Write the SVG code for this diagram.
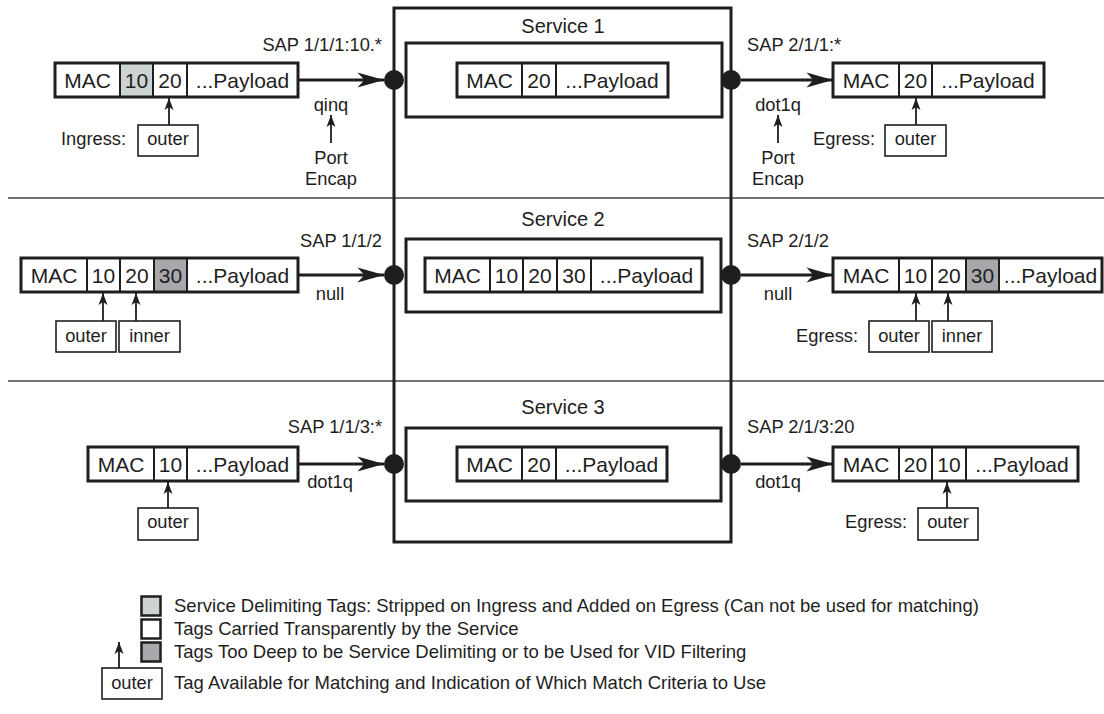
<svg xmlns="http://www.w3.org/2000/svg" width="1104" height="714" viewBox="0 0 1104 714">
<style>
text{font-family:"Liberation Sans",Arial,sans-serif;fill:#1e1e1e}
.p{font-size:21px;text-anchor:middle}
.s{font-size:20px;text-anchor:middle}
.l{font-size:18.3px}
.m{text-anchor:middle}
.e{text-anchor:end}
.g{font-size:18.5px}
.cell{fill:#fff;stroke:#1e1e1e;stroke-width:2}
.lt{fill:#cdd2d2}
.dk{fill:#a8a8ac}
.frame{fill:none;stroke:#1e1e1e;stroke-width:3}
.tag{fill:#fff;stroke:#1e1e1e;stroke-width:1.6}
.div{stroke:#444;stroke-width:1.6}
.arr{stroke:#1e1e1e;stroke-width:3;fill:none;marker-end:url(#big)}
.sm{stroke:#1e1e1e;stroke-width:1.8;fill:none;marker-end:url(#small)}
.dot{fill:#1e1e1e}
.leg{stroke:#1e1e1e;stroke-width:2.5}
</style>
<defs>
<marker id="big" markerUnits="userSpaceOnUse" markerWidth="30" markerHeight="20" viewBox="-24 -8 26 16" refX="0" refY="0" orient="auto">
<path d="M0,0 L-23,-6.5 L-17,0 L-23,6.5 Z" fill="#1e1e1e"/>
</marker>
<marker id="small" markerUnits="userSpaceOnUse" markerWidth="16" markerHeight="12" viewBox="-13 -6 14 12" refX="0" refY="0" orient="auto">
<path d="M0,0 L-12,-4.5 L-9,0 L-12,4.5 Z" fill="#1e1e1e"/>
</marker>
</defs>

<g id="dividers">
<line class="div" x1="8" y1="198" x2="1104" y2="198"/>
<line class="div" x1="8" y1="381" x2="1104" y2="381"/>
</g>

<g id="service-frame">
<rect class="frame" x="394" y="8" width="337" height="534"/>
</g>

<g id="service1">
<text class="s" x="563" y="33">Service 1</text>
<rect class="frame" x="406" y="43" width="316" height="74"/>
<rect class="cell" x="457" y="63" width="65" height="34"/>
<rect class="cell" x="522" y="63" width="34" height="34"/>
<rect class="cell" x="556" y="63" width="112" height="34"/>
<rect class="frame" x="457" y="63" width="211" height="34"/>
<text class="p" x="489.5" y="87.5">MAC</text>
<text class="p" x="539" y="87.5">20</text>
<text class="p" x="612" y="87.5">...Payload</text>
</g>

<g id="service2">
<text class="s" x="563" y="226">Service 2</text>
<rect class="frame" x="406" y="239" width="315" height="73"/>
<rect class="cell" x="425" y="258" width="65" height="34"/>
<rect class="cell" x="490" y="258" width="33" height="34"/>
<rect class="cell" x="523" y="258" width="34" height="34"/>
<rect class="cell" x="557" y="258" width="34" height="34"/>
<rect class="cell" x="591" y="258" width="111" height="34"/>
<rect class="frame" x="425" y="258" width="277" height="34"/>
<text class="p" x="457.5" y="282.5">MAC</text>
<text class="p" x="506.5" y="282.5">10</text>
<text class="p" x="540" y="282.5">20</text>
<text class="p" x="574" y="282.5">30</text>
<text class="p" x="646.5" y="282.5">...Payload</text>
</g>

<g id="service3">
<text class="s" x="563" y="414">Service 3</text>
<rect class="frame" x="406" y="428" width="315" height="73"/>
<rect class="cell" x="457" y="447" width="65" height="34"/>
<rect class="cell" x="522" y="447" width="34" height="34"/>
<rect class="cell" x="556" y="447" width="111" height="34"/>
<rect class="frame" x="457" y="447" width="210" height="34"/>
<text class="p" x="489.5" y="471.5">MAC</text>
<text class="p" x="539" y="471.5">20</text>
<text class="p" x="611.5" y="471.5">...Payload</text>
</g>

<g id="ingress1">
<rect class="cell" x="55" y="63" width="65" height="34"/>
<rect class="cell lt" x="120" y="63" width="33" height="34"/>
<rect class="cell" x="153" y="63" width="34" height="34"/>
<rect class="cell" x="187" y="63" width="111" height="34"/>
<rect class="frame" x="55" y="63" width="243" height="34"/>
<text class="p" x="87.5" y="87.5">MAC</text>
<text class="p" x="136.5" y="87.5">10</text>
<text class="p" x="170" y="87.5">20</text>
<text class="p" x="242.5" y="87.5">...Payload</text>
</g>

<g id="egress1">
<rect class="cell" x="833" y="63" width="66" height="34"/>
<rect class="cell" x="899" y="63" width="33" height="34"/>
<rect class="cell" x="932" y="63" width="112" height="34"/>
<rect class="frame" x="833" y="63" width="211" height="34"/>
<text class="p" x="866" y="87.5">MAC</text>
<text class="p" x="915.5" y="87.5">20</text>
<text class="p" x="988" y="87.5">...Payload</text>
</g>

<g id="ingress2">
<rect class="cell" x="21" y="258" width="66" height="34"/>
<rect class="cell" x="87" y="258" width="33" height="34"/>
<rect class="cell" x="120" y="258" width="34" height="34"/>
<rect class="cell dk" x="154" y="258" width="33" height="34"/>
<rect class="cell" x="187" y="258" width="111" height="34"/>
<rect class="frame" x="21" y="258" width="277" height="34"/>
<text class="p" x="54" y="282.5">MAC</text>
<text class="p" x="103.5" y="282.5">10</text>
<text class="p" x="137" y="282.5">20</text>
<text class="p" x="170.5" y="282.5">30</text>
<text class="p" x="242.5" y="282.5">...Payload</text>
</g>

<g id="egress2">
<rect class="cell" x="833" y="258" width="66" height="34"/>
<rect class="cell" x="899" y="258" width="33" height="34"/>
<rect class="cell" x="932" y="258" width="34" height="34"/>
<rect class="cell dk" x="966" y="258" width="33" height="34"/>
<rect class="cell" x="999" y="258" width="103" height="34"/>
<rect class="frame" x="833" y="258" width="269" height="34"/>
<text class="p" x="866" y="282.5">MAC</text>
<text class="p" x="915.5" y="282.5">10</text>
<text class="p" x="949" y="282.5">20</text>
<text class="p" x="982.5" y="282.5">30</text>
<text class="p" x="1050.5" y="282.5">...Payload</text>
</g>

<g id="ingress3">
<rect class="cell" x="88" y="447" width="66" height="34"/>
<rect class="cell" x="154" y="447" width="33" height="34"/>
<rect class="cell" x="187" y="447" width="111" height="34"/>
<rect class="frame" x="88" y="447" width="210" height="34"/>
<text class="p" x="121" y="471.5">MAC</text>
<text class="p" x="170.5" y="471.5">10</text>
<text class="p" x="242.5" y="471.5">...Payload</text>
</g>

<g id="egress3">
<rect class="cell" x="833" y="447" width="66" height="34"/>
<rect class="cell" x="899" y="447" width="33" height="34"/>
<rect class="cell" x="932" y="447" width="34" height="34"/>
<rect class="cell" x="966" y="447" width="112" height="34"/>
<rect class="frame" x="833" y="447" width="245" height="34"/>
<text class="p" x="866" y="471.5">MAC</text>
<text class="p" x="915.5" y="471.5">20</text>
<text class="p" x="949" y="471.5">10</text>
<text class="p" x="1022" y="471.5">...Payload</text>
</g>

<g id="tags">
<text class="l e" x="126" y="145">Ingress:</text>
<rect class="tag" x="138" y="125" width="60" height="31"/>
<text class="l m" x="168" y="145">outer</text>
<text class="l e" x="875" y="145">Egress:</text>
<rect class="tag" x="885" y="125" width="61" height="31"/>
<text class="l m" x="915.5" y="145">outer</text>

<rect class="tag" x="56" y="321" width="60" height="31"/>
<text class="l m" x="86" y="342">outer</text>
<rect class="tag" x="119" y="321" width="61" height="31"/>
<text class="l m" x="149.5" y="342">inner</text>
<text class="l e" x="858" y="342">Egress:</text>
<rect class="tag" x="869" y="321" width="60" height="31"/>
<text class="l m" x="899" y="342">outer</text>
<rect class="tag" x="932" y="321" width="60" height="31"/>
<text class="l m" x="962" y="342">inner</text>

<rect class="tag" x="138" y="508" width="60" height="32"/>
<text class="l m" x="168" y="528">outer</text>
<text class="l e" x="907" y="528">Egress:</text>
<rect class="tag" x="918" y="508" width="60" height="32"/>
<text class="l m" x="948" y="528">outer</text>
</g>

<g id="labels">
<text class="l e" x="382" y="51">SAP 1/1/1:10.*</text>
<text class="l m" x="331" y="111">qinq</text>
<text class="l m" x="331" y="164">Port</text>
<text class="l m" x="331" y="185">Encap</text>
<text class="l" x="747" y="51">SAP 2/1/1:*</text>
<text class="l m" x="778" y="111">dot1q</text>
<text class="l m" x="778" y="164">Port</text>
<text class="l m" x="778" y="185">Encap</text>
<text class="l e" x="382" y="247">SAP 1/1/2</text>
<text class="l m" x="330" y="300">null</text>
<text class="l" x="747" y="247">SAP 2/1/2</text>
<text class="l m" x="778" y="300">null</text>
<text class="l e" x="382" y="433">SAP 1/1/3:*</text>
<text class="l m" x="330" y="488">dot1q</text>
<text class="l" x="747" y="433">SAP 2/1/3:20</text>
<text class="l m" x="778" y="488">dot1q</text>
</g>

<g id="connectors">
<line class="arr" x1="298" y1="80" x2="384" y2="80"/>
<line class="arr" x1="741" y1="80" x2="833" y2="80"/>
<line class="arr" x1="298" y1="275" x2="384" y2="275"/>
<line class="arr" x1="741" y1="275" x2="833" y2="275"/>
<line class="arr" x1="298" y1="464" x2="384" y2="464"/>
<line class="arr" x1="741" y1="464" x2="833" y2="464"/>
<line class="sm" x1="331" y1="143" x2="331" y2="115"/>
<line class="sm" x1="778" y1="143" x2="778" y2="115"/>
<line class="sm" x1="169" y1="125" x2="169" y2="98"/>
<line class="sm" x1="916" y1="125" x2="916" y2="98"/>
<line class="sm" x1="103" y1="321" x2="103" y2="293"/>
<line class="sm" x1="136" y1="321" x2="136" y2="293"/>
<line class="sm" x1="916" y1="321" x2="916" y2="293"/>
<line class="sm" x1="948" y1="321" x2="948" y2="293"/>
<line class="sm" x1="168" y1="508" x2="168" y2="482"/>
<line class="sm" x1="947" y1="508" x2="947" y2="482"/>
<circle class="dot" cx="394" cy="80" r="10"/>
<circle class="dot" cx="731" cy="80" r="10"/>
<circle class="dot" cx="394" cy="275" r="10"/>
<circle class="dot" cx="731" cy="275" r="10"/>
<circle class="dot" cx="394" cy="464" r="10"/>
<circle class="dot" cx="731" cy="464" r="10"/>
</g>

<g id="legend">
<rect class="leg lt" x="141.5" y="596.5" width="19" height="19"/>
<rect class="leg" fill="#fff" x="141.5" y="619.5" width="19" height="19"/>
<rect class="leg dk" x="141.5" y="642.5" width="19" height="19"/>
<text class="g" x="174" y="612">Service Delimiting Tags: Stripped on Ingress and Added on Egress (Can not be used for matching)</text>
<text class="g" x="174" y="635">Tags Carried Transparently by the Service</text>
<text class="g" x="174" y="658">Tags Too Deep to be Service Delimiting or to be Used for VID Filtering</text>
<line class="sm" x1="119" y1="668" x2="119" y2="642"/>
<rect class="tag" x="102" y="668" width="60" height="31"/>
<text class="l m" x="132" y="689">outer</text>
<text class="g" x="174" y="689">Tag Available for Matching and Indication of Which Match Criteria to Use</text>
</g>
</svg>
